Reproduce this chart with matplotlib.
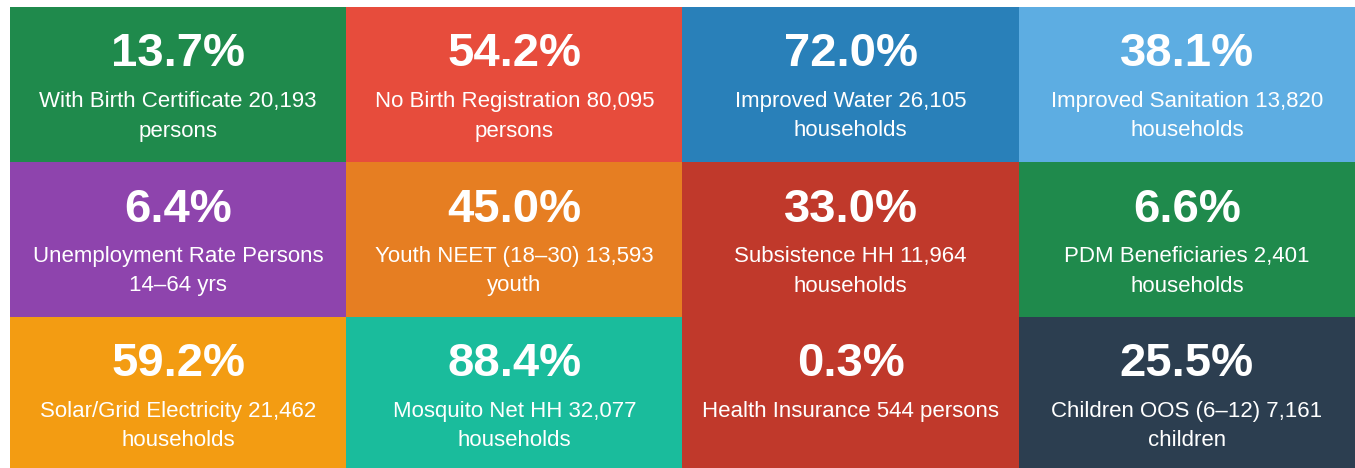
import textwrap
import matplotlib.pyplot as plt

# KPI tiles, row by row
pcts = ["13.7%", "54.2%", "72.0%", "38.1%",
        "6.4%", "45.0%", "33.0%", "6.6%",
        "59.2%", "88.4%", "0.3%", "25.5%"]
labels = ["With Birth Certificate 20,193 persons",
          "No Birth Registration 80,095 persons",
          "Improved Water 26,105 households",
          "Improved Sanitation 13,820 households",
          "Unemployment Rate Persons 14\u201364 yrs",
          "Youth NEET (18\u201330) 13,593 youth",
          "Subsistence HH 11,964 households",
          "PDM Beneficiaries 2,401 households",
          "Solar/Grid Electricity 21,462 households",
          "Mosquito Net HH 32,077 households",
          "Health Insurance 544 persons",
          "Children OOS (6\u201312) 7,161 children"]
colors = ["#1f8a4c", "#e74c3c", "#2980b9", "#5dade2",
          "#8e44ad", "#e67e22", "#c0392b", "#1f8a4c",
          "#f39c12", "#1abc9c", "#c0392b", "#2c3e50"]

W, H = 1355, 468
fig = plt.figure(figsize=(W / 100, H / 100), dpi=100)
fig.patch.set_facecolor("white")

x0, y0 = 10, 7
tw, th = 336.25, 155

for i in range(len(pcts)):
    r, c = divmod(i, 4)
    left = x0 + c * tw
    top = y0 + r * th
    ax = fig.add_axes([left / W, 1 - (top + th) / H, tw / W, th / H])
    ax.set_facecolor(colors[i])
    ax.set_xlim(0, tw)
    ax.set_ylim(th, 0)
    ax.set_xticks([])
    ax.set_yticks([])
    for s in ax.spines.values():
        s.set_visible(False)
    ax.text(tw / 2, 47.5, pcts[i], color="white", fontsize=34, fontweight="bold",
            ha="center", va="center", family="Liberation Sans")
    lines = textwrap.wrap(labels[i], width=30)
    for k, ln in enumerate(lines):
        ax.text(tw / 2, 94 + 30 * k, ln, color="white", fontsize=16,
                ha="center", va="center", family="Liberation Sans")

fig.savefig("out.png", dpi=100)
